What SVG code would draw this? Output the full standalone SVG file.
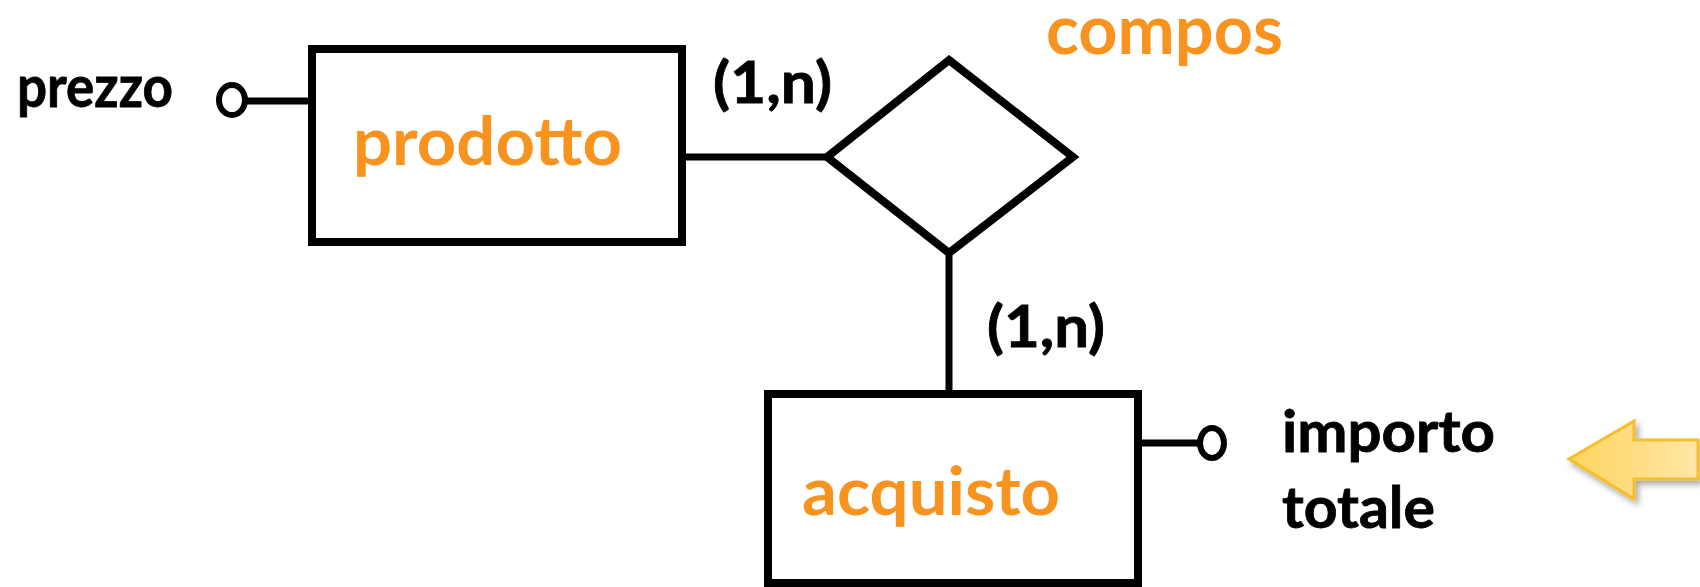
<svg xmlns="http://www.w3.org/2000/svg" width="1700" height="587" viewBox="0 0 1700 587">
<style>
.ent{fill:#fff;stroke:#000;stroke-width:8}
.rel{fill:#fff;stroke:#000;stroke-width:8;stroke-linejoin:miter}
.attr{fill:#fff;stroke:#000;stroke-width:6}
.con{stroke:#000;stroke-width:7;fill:none}
.lbl{font-family:Lato,"Liberation Sans",sans-serif;font-weight:bold;fill:#000;stroke:#000;stroke-width:0.8}
.name{font-family:Lato,"Liberation Sans",sans-serif;font-weight:bold;fill:#F7931E}
</style>
<defs>
<linearGradient id="ag" x1="0" y1="0" x2="1" y2="0">
<stop offset="0" stop-color="#FFD45E"/>
<stop offset="1" stop-color="#FFE6A6"/>
</linearGradient>
<filter id="sh" x="-20%" y="-30%" width="140%" height="160%">
<feGaussianBlur in="SourceAlpha" stdDeviation="3"/>
<feOffset dx="3" dy="4" result="b"/>
<feComponentTransfer><feFuncA type="linear" slope="0.35"/></feComponentTransfer>
<feMerge><feMergeNode/><feMergeNode in="SourceGraphic"/></feMerge>
</filter>
</defs>
<rect width="1700" height="587" fill="#fff"/>
<g id="connectors">
<line class="con" x1="246" y1="101" x2="312" y2="101"/>
<line class="con" x1="682" y1="157" x2="827" y2="157"/>
<line class="con" x1="949" y1="253" x2="949" y2="394"/>
<line class="con" x1="1138" y1="443" x2="1198" y2="443"/>
<text class="lbl" x="713" y="103" font-size="58" textLength="119" lengthAdjust="spacingAndGlyphs">(1,n)</text>
<text class="lbl" x="987" y="347" font-size="58" textLength="118" lengthAdjust="spacingAndGlyphs">(1,n)</text>
</g>
<g id="prodotto">
<rect class="ent" x="312" y="49" width="370" height="193"/>
<text class="name" x="353" y="165" font-size="66" textLength="269" lengthAdjust="spacingAndGlyphs">prodotto</text>
</g>
<g id="acquisto">
<rect class="ent" x="768" y="394" width="370" height="189"/>
<text class="name" x="802" y="515" font-size="66" textLength="258" lengthAdjust="spacingAndGlyphs">acquisto</text>
</g>
<g id="compos">
<polygon class="rel" points="949,60 1073,157 949,253 827,157"/>
<text class="name" x="1046" y="54" font-size="68" textLength="237" lengthAdjust="spacingAndGlyphs">compos</text>
</g>
<g id="prezzo">
<ellipse class="attr" cx="232" cy="100" rx="13" ry="15"/>
<text class="lbl" x="17" y="107" font-size="58" textLength="156" lengthAdjust="spacingAndGlyphs">prezzo</text>
</g>
<g id="importo-totale">
<ellipse class="attr" cx="1212" cy="443" rx="12" ry="15"/>
<text class="lbl" x="1282" y="452" font-size="58" textLength="213" lengthAdjust="spacingAndGlyphs">importo</text>
<text class="lbl" x="1282" y="528" font-size="58" textLength="153" lengthAdjust="spacingAndGlyphs">totale</text>
</g>
<g id="arrow">
<polygon points="1569,459 1634,421 1634,440 1698,440 1698,479 1634,479 1634,499" fill="url(#ag)" stroke="#F6BE2C" stroke-width="3" stroke-linejoin="miter" filter="url(#sh)"/>
</g>
</svg>
